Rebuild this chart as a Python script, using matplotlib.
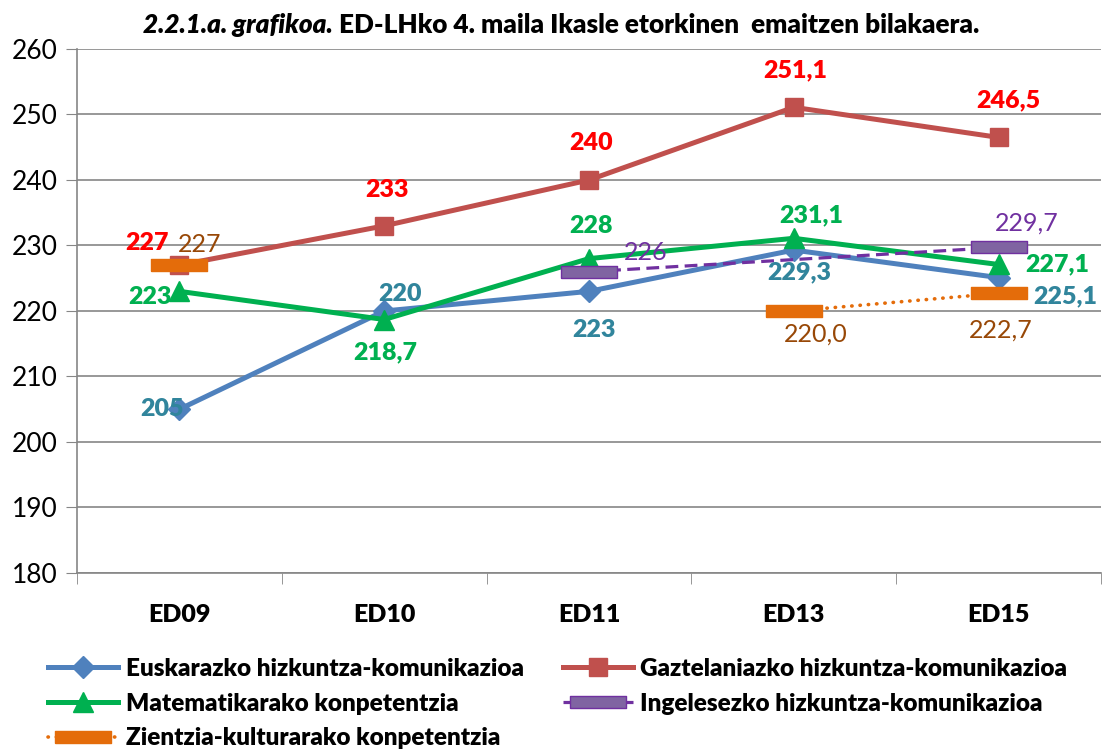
import numpy as np
import matplotlib
matplotlib.use('Agg')
import matplotlib.pyplot as plt
from matplotlib.ticker import MultipleLocator, FixedLocator

plt.rcParams['font.family'] = ['Lato', 'DejaVu Sans']

# data
waves = ['ED09', 'ED10', 'ED11', 'ED13', 'ED15']
euskara = [205, 220, 223, 229.3, 225.1]
gaztelania = [227, 233, 240, 251.1, 246.5]
matematika = [223, 218.7, 228, 231.1, 227.1]
ingelesa_x = [2, 4]
ingelesa = [226, 229.7]
zientzia_x = [0, 3, 4]
zientzia = [227, 220.0, 222.7]

eus_labels = ['205', '220', '223', '229,3', '225,1']
gaz_labels = ['227', '233', '240', '251,1', '246,5']
mat_labels = ['223', '218,7', '228', '231,1', '227,1']
ing_labels = ['226', '229,7']
zie_labels = ['227', '220,0', '222,7']

fig = plt.figure(figsize=(11.03, 7.53), dpi=100)
ax = fig.add_axes([77 / 1103, 1 - 573 / 753, 1024 / 1103, 524 / 753])

x = np.arange(len(waves))
dash = [(-1, -0.22), (1, -0.22), (1, 0.22), (-1, 0.22), (-1, -0.22)]

l_eus, = ax.plot(x, euskara, color='#4F81BD', lw=3.6, marker='D', ms=11,
                 label='Euskarazko hizkuntza-komunikazioa', zorder=4)
l_gaz, = ax.plot(x, gaztelania, color='#C0504D', lw=3.6, marker='s', ms=13,
                 label='Gaztelaniazko hizkuntza-komunikazioa', zorder=4)
l_mat, = ax.plot(x, matematika, color='#00B050', lw=3.6, marker='^', ms=14,
                 label='Matematikarako konpetentzia', zorder=4)
l_ing, = ax.plot(ingelesa_x, ingelesa, color='#7030A0', lw=2.3, ls=(0, (4, 2)),
                 marker=dash, ms=40, mfc='#8064A2', mec='#7030A0', mew=1,
                 label='Ingelesezko hizkuntza-komunikazioa', zorder=5)
# orange: lone point at ED09, then dotted ED13-ED15
ax.plot(zientzia_x[:1], zientzia[:1], ls='none', marker=dash, ms=40,
        mfc='#E46C0A', mec='#E46C0A', zorder=5)
l_zie, = ax.plot(zientzia_x[1:], zientzia[1:], color='#E46C0A', lw=2.6,
                 ls=(0, (0.1, 2.2)), dash_capstyle='round', marker=dash, ms=40,
                 mfc='#E46C0A', mec='#E46C0A',
                 label='Zientzia-kulturarako konpetentzia', zorder=5)


def lab(xs, ys, texts, offs, color, bold, ha='center'):
    for xi, yi, t, o in zip(xs, ys, texts, offs):
        h = ha
        if len(o) == 3:
            h = o[2]
            o = o[:2]
        ax.annotate(t, (xi, yi), xytext=o, textcoords='offset pixels',
                    ha=h, va='center', color=color, fontsize=18,
                    fontweight='heavy' if bold else 'normal', zorder=6)


lab(x, gaztelania, gaz_labels,
    [(-32, 22), (3, 36), (2, 37), (1, 37), (10, 37)], '#FF0000', True)
lab(x, euskara, eus_labels,
    [(4, 0, 'right'), (16, 17), (5, -39), (5, -22), (35, -19, 'left')], '#31859C', True)
lab(x, matematika, mat_labels,
    [(-8, -6, 'right'), (1, -33), (2, 33), (17, 23), (27, 0, 'left')], '#00B050', True)
lab(ingelesa_x, ingelesa, ing_labels, [(57, 19), (28, 24)], '#7030A0', False)
lab(zientzia_x, zientzia, zie_labels, [(20, 21), (22, -23), (2, -37)], '#984807', False)

ax.set_xlim(-0.5, 4.5)
ax.set_ylim(180, 260)
ax.yaxis.set_major_locator(MultipleLocator(10))
ax.set_xticks(x)
ax.set_xticklabels(waves, fontsize=18, fontweight='heavy')
ax.xaxis.set_minor_locator(FixedLocator(np.arange(-0.5, 5, 1)))
ax.tick_params(axis='x', which='major', length=0, pad=22)
ax.tick_params(axis='x', which='minor', length=8, color='#868686', direction='out')
ax.tick_params(axis='y', length=8, color='#868686', labelsize=19, pad=6)
ax.grid(axis='y', color='#868686', lw=1.2)
ax.set_axisbelow(True)
for s in ['top', 'right']:
    ax.spines[s].set_visible(False)
for s in ['left', 'bottom']:
    ax.spines[s].set_color('#868686')
    ax.spines[s].set_linewidth(1.2)

handles = [l_eus, l_mat, l_zie, l_gaz, l_ing]
fig.legend(handles=handles, labels=[h.get_label() for h in handles],
           ncol=2, loc='upper left', bbox_to_anchor=(26 / 1103, 1 - 636 / 753),
           frameon=False, prop={'weight': 'heavy', 'size': 17.5},
           handlelength=2.9, handletextpad=0.3, columnspacing=1.6,
           labelspacing=0.52, markerscale=1.0)

t1 = fig.text(143 / 1103, 1 - 25 / 753, '2.2.1.a. grafikoa.', fontsize=18.8,
              fontweight='heavy', style='italic', va='center')
ax.annotate(' ED-LHko 4. maila Ikasle etorkinen  emaitzen bilakaera.',
            xy=(1, 0.5), xycoords=t1, va='center', ha='left',
            fontsize=18.8, fontweight='heavy', annotation_clip=False)

fig.savefig('out.png', dpi=100)
